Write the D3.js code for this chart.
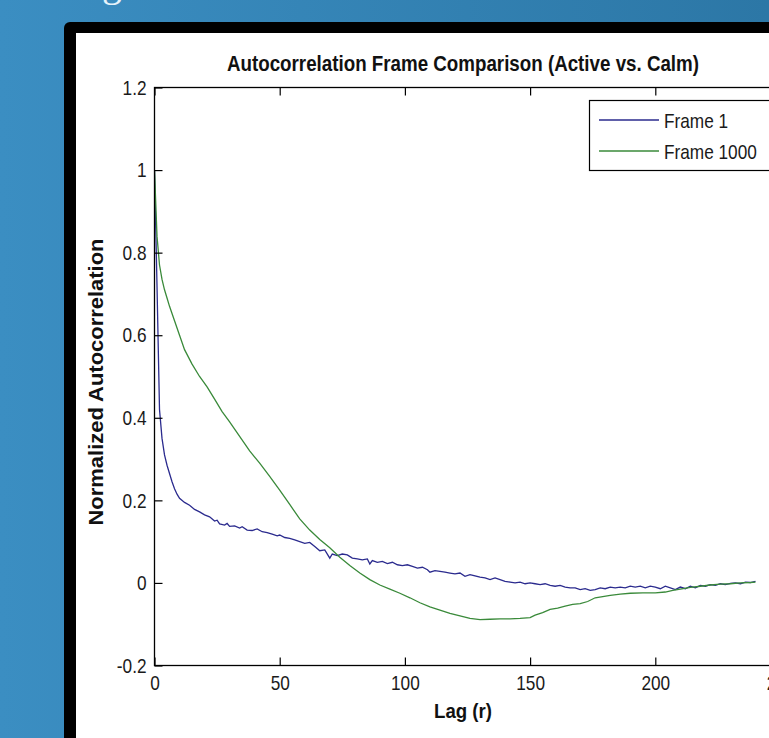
<!DOCTYPE html>
<html>
<head>
<meta charset="utf-8">
<script src="https://cdn.jsdelivr.net/npm/d3@7"></script>
<style>
  html, body { margin: 0; padding: 0; overflow: hidden; background: #3587ba; }
  svg { display: block; }
</style>
</head>
<body>
<svg id="chart" width="769" height="738"></svg>
<script>
// ---- Data ----
const chartTitle = "Autocorrelation Frame Comparison (Active vs. Calm)";
const xLabel = "Lag (r)";
const yLabel = "Normalized Autocorrelation";
const seriesNames = ["Frame 1", "Frame 1000"];
const xTicks = [0, 50, 100, 150, 200, 250];
const yTicks = [-0.2, 0, 0.2, 0.4, 0.6, 0.8, 1, 1.2];
const yTickLabels = ["-0.2", "0", "0.2", "0.4", "0.6", "0.8", "1", "1.2"];

// Frame 1 (blue)
const frame1Lags = [0,1,2,3,4,5,6,7,8,9,10,12,14,16,18,20,22,24,25,26,28,29,30,32,34,35,37,39,41,43,45,47,49,50,52,54,56,58,60,62,64,66,68,70,71,73,75,77,79,81,83,85,86,87,89,91,93,95,97,99,101,103,105,107,109,110,112,114,116,118,120,122,124,126,128,130,132,134,136,138,140,142,144,146,148,150,152,154,156,158,160,162,164,166,168,170,172,174,176,178,180,182,184,186,188,190,192,194,196,198,200,202,204,206,208,210,212,214,216,218,220,222,224,226,228,230,232,234,236,238,240];
const frame1Vals = [1.0,0.72,0.42,0.35,0.31,0.285,0.265,0.245,0.228,0.215,0.205,0.195,0.188,0.178,0.172,0.165,0.160,0.150,0.152,0.143,0.140,0.144,0.137,0.138,0.133,0.136,0.128,0.127,0.131,0.124,0.122,0.118,0.114,0.116,0.110,0.108,0.104,0.100,0.096,0.098,0.088,0.078,0.080,0.060,0.070,0.066,0.070,0.068,0.060,0.058,0.056,0.058,0.046,0.054,0.050,0.052,0.047,0.050,0.044,0.042,0.044,0.040,0.036,0.038,0.032,0.026,0.030,0.028,0.026,0.024,0.022,0.024,0.016,0.020,0.017,0.014,0.012,0.008,0.012,0.008,0.004,0.002,0.000,0.002,-0.002,0.000,-0.002,-0.004,-0.002,-0.006,-0.008,-0.006,-0.010,-0.012,-0.012,-0.016,-0.014,-0.018,-0.016,-0.012,-0.014,-0.010,-0.012,-0.010,-0.012,-0.008,-0.010,-0.008,-0.012,-0.008,-0.010,-0.014,-0.008,-0.012,-0.016,-0.010,-0.014,-0.008,-0.012,-0.006,-0.008,-0.004,-0.006,-0.002,-0.004,-0.001,0.000,-0.002,0.002,0.001,0.004];

// Frame 1000 (green)
const frame1000Lags = [0,1,2,3,4,5,6,8,10,12,15,18,21,24,27,30,34,38,42,46,50,54,58,62,66,70,74,78,82,86,90,94,98,102,106,110,114,118,122,126,130,134,138,142,146,150,152,155,158,161,164,167,170,173,176,179,182,186,190,195,200,204,207,210,214,218,222,226,230,234,238,240];
const frame1000Vals = [1.0,0.84,0.77,0.735,0.71,0.69,0.67,0.635,0.60,0.565,0.53,0.50,0.475,0.445,0.415,0.39,0.355,0.32,0.29,0.258,0.225,0.19,0.155,0.128,0.105,0.085,0.062,0.042,0.024,0.008,-0.005,-0.015,-0.025,-0.036,-0.048,-0.058,-0.066,-0.074,-0.080,-0.086,-0.089,-0.088,-0.087,-0.087,-0.086,-0.084,-0.078,-0.072,-0.064,-0.061,-0.056,-0.052,-0.050,-0.045,-0.036,-0.033,-0.030,-0.027,-0.025,-0.024,-0.024,-0.022,-0.018,-0.015,-0.011,-0.008,-0.005,-0.003,-0.002,0.000,0.001,0.002];

const seriesColors = ["#2b2b8e", "#3a8a3a"];

// ---- Drawing ----
const svg = d3.select("#chart");
const W = 769, H = 738;

const defs = svg.append("defs");
const grad = defs.append("linearGradient").attr("id", "bg").attr("x1", "0").attr("y1", "0").attr("x2", "1").attr("y2", "0");
grad.append("stop").attr("offset", "0").attr("stop-color", "#3b8ec2");
grad.append("stop").attr("offset", "1").attr("stop-color", "#2c77a6");
svg.append("rect").attr("width", W).attr("height", H).attr("fill", "url(#bg)");

// slide title remnant at the top
svg.append("text").attr("x", 102).attr("y", -4)
  .attr("font-family", "'Liberation Serif', serif").attr("font-size", 40)
  .attr("fill", "#e6f2fa").text("g");

// black frame and white figure
svg.append("rect").attr("x", 64).attr("y", 22).attr("width", 800).attr("height", 800)
  .attr("rx", 6).attr("fill", "#000");
svg.append("rect").attr("x", 76).attr("y", 33).attr("width", 800).attr("height", 800)
  .attr("fill", "#fff");

const pLeft = 154.5, pRight = 780.5, pTop = 87.5, pBottom = 665.5;
const x = d3.scaleLinear().domain([0, 250]).range([pLeft, pRight]);
const y = d3.scaleLinear().domain([-0.2, 1.2]).range([pBottom, pTop]);

const sans = "'Liberation Sans', Arial, sans-serif";
const NARROW = 0.82; // condense to mimic a narrow face

// shrink a text selection horizontally, keeping its anchor
function condense(sel, k) {
  sel.each(function () {
    const w = this.getComputedTextLength();
    d3.select(this).attr("textLength", w * k).attr("lengthAdjust", "spacingAndGlyphs");
  });
}

defs.append("clipPath").attr("id", "plotclip").append("rect")
  .attr("x", pLeft).attr("y", pTop).attr("width", pRight - pLeft).attr("height", pBottom - pTop);

// series lines
const series = [
  { lags: frame1Lags, vals: frame1Vals, color: seriesColors[0] },
  { lags: frame1000Lags, vals: frame1000Vals, color: seriesColors[1] }
];
const line = d3.line().x(d => x(d[0])).y(d => y(d[1]));
const gLines = svg.append("g").attr("clip-path", "url(#plotclip)");
series.forEach(s => {
  const pts = s.lags.map((l, i) => [l, s.vals[i]]);
  gLines.append("path").attr("d", line(pts)).attr("fill", "none")
    .attr("stroke", s.color).attr("stroke-width", 1.3);
});

// axes
const axisStyle = g => {
  g.select(".domain").remove();
  g.selectAll(".tick line").attr("stroke", "#000").attr("stroke-width", 1.2);
  g.selectAll(".tick text").attr("font-family", sans).attr("font-size", 21).attr("fill", "#1a1a1a")
    .call(condense, NARROW);
};
svg.append("g").attr("transform", `translate(0,${pBottom})`)
  .call(d3.axisBottom(x).tickValues(xTicks).tickSize(-8).tickPadding(10).tickFormat(d3.format("d")))
  .call(axisStyle);
svg.append("g").attr("transform", `translate(0,${pTop})`)
  .call(d3.axisTop(x).tickValues(xTicks).tickSize(-8).tickFormat(""))
  .call(axisStyle);
svg.append("g").attr("transform", `translate(${pLeft},0)`)
  .call(d3.axisLeft(y).tickValues(yTicks).tickSize(-8).tickPadding(8).tickFormat((d, i) => yTickLabels[i]))
  .call(axisStyle);

// box
svg.append("rect").attr("x", pLeft).attr("y", pTop).attr("width", pRight - pLeft).attr("height", pBottom - pTop)
  .attr("fill", "none").attr("stroke", "#000").attr("stroke-width", 1.3);

// title & labels
svg.append("text").attr("x", 463).attr("y", 71).attr("text-anchor", "middle")
  .attr("font-family", sans).attr("font-weight", "bold").attr("font-size", 22)
  .attr("fill", "#111").attr("textLength", 472).attr("lengthAdjust", "spacingAndGlyphs")
  .text(chartTitle);
svg.append("text").attr("x", 463).attr("y", 718).attr("text-anchor", "middle")
  .attr("font-family", sans).attr("font-weight", "bold").attr("font-size", 21)
  .attr("fill", "#111").attr("textLength", 58).attr("lengthAdjust", "spacingAndGlyphs")
  .text(xLabel);
svg.append("text").attr("transform", "translate(103,382) rotate(-90)").attr("text-anchor", "middle")
  .attr("font-family", sans).attr("font-weight", "bold").attr("font-size", 20)
  .attr("fill", "#111").attr("textLength", 287).attr("lengthAdjust", "spacingAndGlyphs")
  .text(yLabel);

// legend
const lg = svg.append("g");
lg.append("rect").attr("x", 589.5).attr("y", 100.5).attr("width", 200).attr("height", 70)
  .attr("fill", "#fff").attr("stroke", "#000").attr("stroke-width", 1.2);
seriesNames.forEach((n, i) => {
  const yy = 120 + i * 31;
  lg.append("line").attr("x1", 599).attr("x2", 659).attr("y1", yy).attr("y2", yy)
    .attr("stroke", seriesColors[i]).attr("stroke-width", 1.3);
  lg.append("text").attr("x", 664).attr("y", yy + 7.5)
    .attr("font-family", sans).attr("font-size", 21).attr("fill", "#1a1a1a").text(n)
    .call(condense, NARROW);
});
</script>
</body>
</html>
